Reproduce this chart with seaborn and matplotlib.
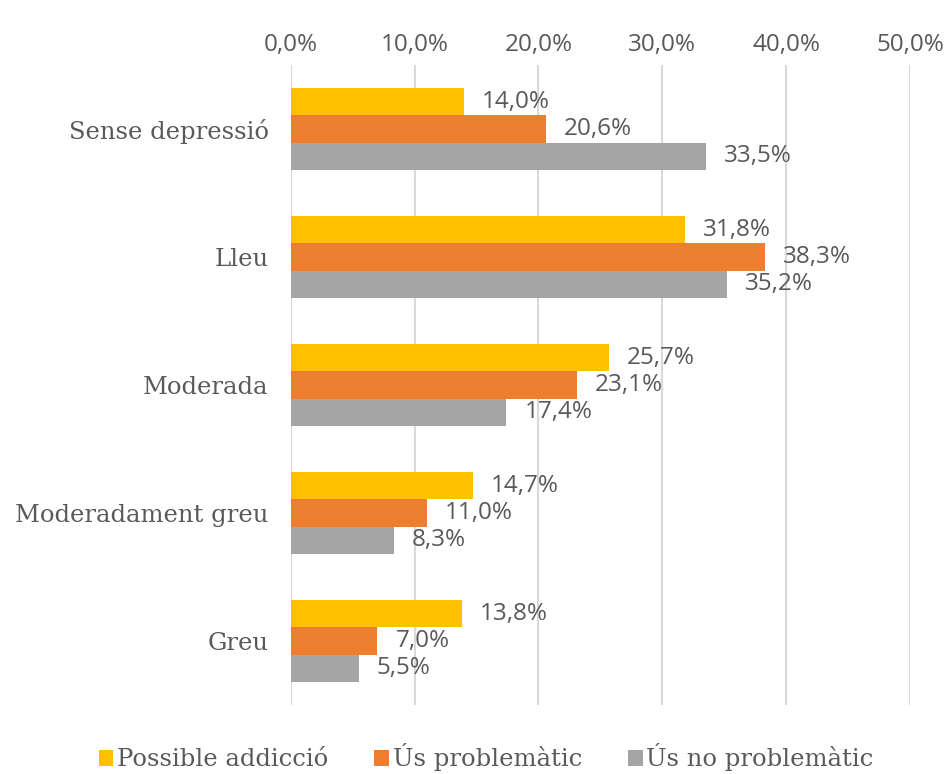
import seaborn as sns
import matplotlib.pyplot as plt
import pandas as pd

categories = ["Sense depressió", "Lleu", "Moderada", "Moderadament greu", "Greu"]
series = ["Possible addicció", "Ús problemàtic", "Ús no problemàtic"]
possible_addiccio = [14.0, 31.8, 25.7, 14.7, 13.8]
us_problematic = [20.6, 38.3, 23.1, 11.0, 7.0]
us_no_problematic = [33.5, 35.2, 17.4, 8.3, 5.5]
colors = ["#FFC000", "#ED7D31", "#A5A5A5"]
text_color = "#595959"

rows = []
for name, vals in zip(series, [possible_addiccio, us_problematic, us_no_problematic]):
    for cat, v in zip(categories, vals):
        rows.append({"categoria": cat, "serie": name, "valor": v})
df = pd.DataFrame(rows)

sns.set_style("white")
fig = plt.figure(figsize=(9.44, 7.74), dpi=100)
ax = fig.add_axes([0.308, 0.089, 0.656, 0.827])

sns.barplot(data=df, y="categoria", x="valor", hue="serie", order=categories,
            hue_order=series, palette=colors, orient="h", width=0.64,
            saturation=1, ax=ax, errorbar=None, zorder=3, linewidth=0)

for cont in ax.containers:
    ax.bar_label(cont, labels=[f"{v:.1f}%".replace(".", ",") for v in cont.datavalues],
                 padding=13, fontsize=17.5, color=text_color, family="Open Sans")

ax.set_xlim(0, 50)
ax.set_ylim(4.5, -0.5)
ax.set_xticks(range(0, 51, 10))
ax.set_xticklabels([f"{t},0%" for t in range(0, 51, 10)], family="Open Sans",
                   fontsize=17.5, color=text_color)
ax.xaxis.tick_top()
ax.tick_params(axis="x", length=0, pad=6)
ax.tick_params(axis="y", length=0, pad=16, labelsize=17.5, labelcolor=text_color)
for lab in ax.get_yticklabels():
    lab.set_family("DejaVu Serif")
ax.grid(axis="x", color="#D9D9D9", linewidth=1.5, zorder=0)
for s in ax.spines.values():
    s.set_visible(False)
ax.set_xlabel("")
ax.set_ylabel("")

handles, labels = ax.get_legend_handles_labels()
ax.get_legend().remove()
fig.legend(handles, labels, loc="lower center", bbox_to_anchor=(0.515, -0.025), ncol=3,
           frameon=False, handlelength=0.6, handleheight=0.6, handletextpad=0.15,
           columnspacing=1.9, prop={"family": "DejaVu Serif", "size": 17.5},
           labelcolor=text_color)

fig.savefig("out.png", dpi=100)
